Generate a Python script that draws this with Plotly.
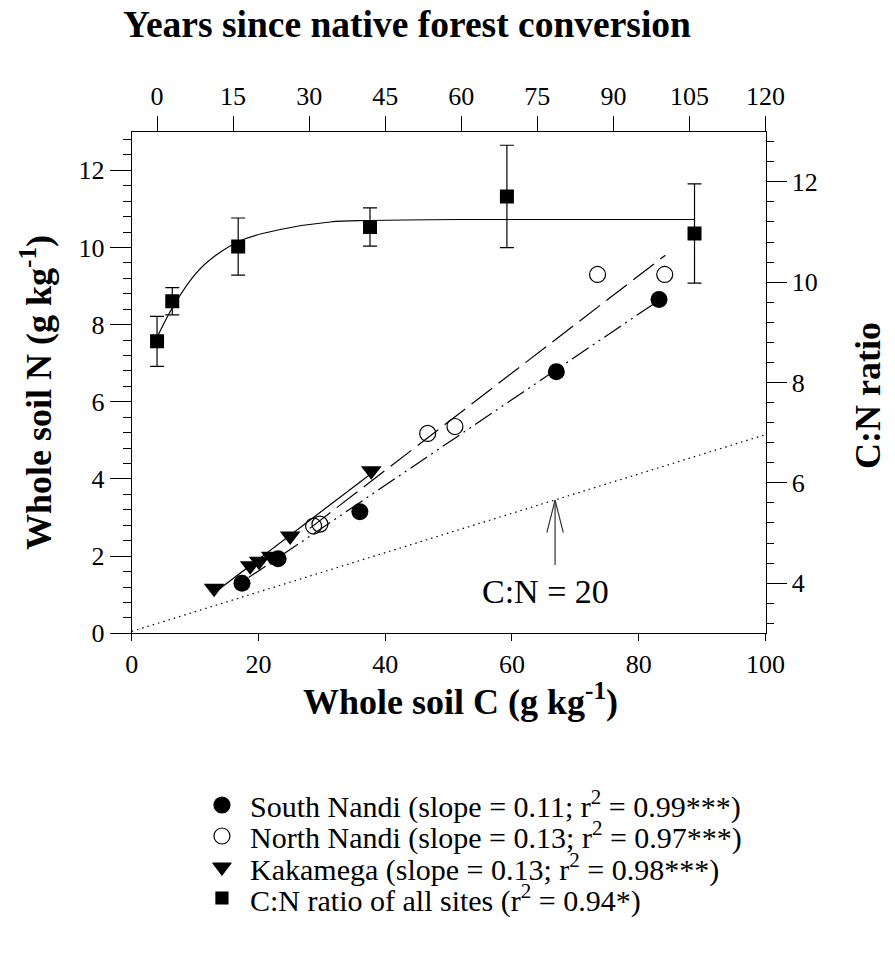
import plotly.graph_objects as go

# ---------------- data ----------------
# Whole soil C vs N, by site
sn_c = [17.4, 23.1, 36.0, 67.0, 83.2]          # South Nandi
sn_n = [1.30, 1.93, 3.15, 6.78, 8.65]
nn_c = [28.7, 29.7, 46.7, 51.0, 73.5, 84.1]    # North Nandi
nn_n = [2.78, 2.83, 5.18, 5.36, 9.30, 9.30]
kk_c = [13.0, 18.7, 20.1, 22.0, 25.0, 37.8]    # Kakamega
kk_n = [1.17, 1.75, 1.87, 2.00, 2.52, 4.21]

# regression lines (end points)
sn_fit_c = [18.5, 84.0]
sn_fit_n = [1.45, 8.72]
nn_fit_c = [28.1, 84.2]
nn_fit_n = [2.72, 9.80]
kk_fit_c = [12.8, 37.7]
kk_fit_n = [1.02, 4.13]

# C:N = 20 reference line
ref_c = [0, 100]
ref_n = [0.05, 5.15]

# C:N ratio vs years since conversion
cn_years = [0, 3, 16, 42, 69, 106]
cn_ratio = [8.82, 9.62, 10.71, 11.10, 11.71, 10.97]
cn_err = [0.50, 0.27, 0.57, 0.38, 1.02, 0.99]

# fitted C:N curve
cn_fit_years = [0, 3.2, 7.8, 11.8, 17, 24.3, 34.1, 42, 60, 106]
cn_fit_ratio = [8.90, 9.52, 10.19, 10.55, 10.85, 11.05, 11.20, 11.23, 11.25, 11.25]

# annotation arrow (C:N = 20)
arrow_c = 66.8
arrow_tail_n = 1.77
arrow_tip_n = 3.45
label_c, label_n = 65.3, 1.08

# legend
legend_rows = [1, 2, 3, 4]
legend_text = [
    "South Nandi (slope = 0.11; r<sup>2</sup> = 0.99***)",
    "North Nandi (slope = 0.13; r<sup>2</sup> = 0.97***)",
    "Kakamega (slope = 0.13; r<sup>2</sup> = 0.98***)",
    "C:N ratio of all sites (r<sup>2</sup> = 0.94*)",
]

FONT = "Liberation Serif"
BLACK = "black"

fig = go.Figure()

# reference dotted line
fig.add_trace(go.Scatter(x=ref_c, y=ref_n, mode="lines",
                         line=dict(color=BLACK, width=1.2, dash="1.5px,4px"),
                         xaxis="x", yaxis="y", hoverinfo="skip"))
# fit lines
fig.add_trace(go.Scatter(x=sn_fit_c, y=sn_fit_n, mode="lines",
                         line=dict(color=BLACK, width=1.2,
                                   dash="20px,5px,2px,5px,2px,5px"),
                         xaxis="x", yaxis="y"))
fig.add_trace(go.Scatter(x=nn_fit_c, y=nn_fit_n, mode="lines",
                         line=dict(color=BLACK, width=1.2, dash="26px,8px"),
                         xaxis="x", yaxis="y"))
fig.add_trace(go.Scatter(x=kk_fit_c, y=kk_fit_n, mode="lines",
                         line=dict(color=BLACK, width=1.2),
                         xaxis="x", yaxis="y"))

# points
fig.add_trace(go.Scatter(x=sn_c, y=sn_n, mode="markers", name="South Nandi",
                         marker=dict(symbol="circle", size=17, color=BLACK),
                         xaxis="x", yaxis="y"))
fig.add_trace(go.Scatter(x=nn_c, y=nn_n, mode="markers", name="North Nandi",
                         marker=dict(symbol="circle-open", size=16, color=BLACK,
                                     line=dict(width=1.2, color=BLACK)),
                         xaxis="x", yaxis="y"))
fig.add_trace(go.Scatter(x=kk_c, y=kk_n, mode="markers", name="Kakamega",
                         marker=dict(symbol="triangle-down", size=18, color=BLACK),
                         xaxis="x", yaxis="y"))

# C:N ratio curve + squares
fig.add_trace(go.Scatter(x=cn_fit_years, y=cn_fit_ratio, mode="lines",
                         line=dict(color=BLACK, width=1.2, shape="spline"),
                         xaxis="x2", yaxis="y2"))
fig.add_trace(go.Scatter(x=cn_years, y=cn_ratio, mode="markers",
                         name="C:N ratio of all sites",
                         marker=dict(symbol="square", size=14, color=BLACK),
                         error_y=dict(type="data", array=cn_err, visible=True,
                                      color=BLACK, thickness=1.2, width=7),
                         xaxis="x2", yaxis="y2"))

# arrow for C:N = 20
fig.add_trace(go.Scatter(
    x=[arrow_c, arrow_c, None, arrow_c - 1.3, arrow_c, arrow_c + 1.3],
    y=[arrow_tail_n, arrow_tip_n, None, arrow_tip_n - 0.84, arrow_tip_n,
       arrow_tip_n - 0.84],
    mode="lines", line=dict(color="#333333", width=1.2),
    xaxis="x", yaxis="y", hoverinfo="skip"))

fig.add_annotation(x=label_c, y=label_n, xref="x", yref="y", text="C:N = 20",
                   showarrow=False, xanchor="center", yanchor="middle",
                   font=dict(family=FONT, size=34, color=BLACK))

# legend built on its own hidden axes
legend_symbols = ["circle", "circle-open", "triangle-down", "square"]
legend_sizes = [16, 16, 16, 12]
fig.add_trace(go.Scatter(
    x=[0.248] * 4, y=legend_rows, mode="markers", opacity=1,
    marker=dict(symbol=legend_symbols, size=legend_sizes, color=BLACK,
                opacity=1, line=dict(width=1.2, color=BLACK)),
    xaxis="x3", yaxis="y3", hoverinfo="skip"))
for r, t in zip(legend_rows, legend_text):
    fig.add_annotation(x=0.277, y=r, xref="x3", yref="y3", text=t,
                       showarrow=False, xanchor="left", yanchor="middle",
                       font=dict(family=FONT, size=30, color=BLACK))

# titles
title_kw = dict(xref="paper", yref="paper", showarrow=False,
                xanchor="center", yanchor="middle")
fig.add_annotation(x=0.4553, y=0.9739,
                   text="<b>Years since native forest conversion</b>",
                   font=dict(family=FONT, size=37.5, color=BLACK), **title_kw)
fig.add_annotation(x=0.515, y=0.2686,
                   text="<b>Whole soil C (g kg<sup>-1</sup>)</b>",
                   font=dict(family=FONT, size=36, color=BLACK), **title_kw)
fig.add_annotation(x=0.0413, y=0.5904,
                   text="<b>Whole soil N (g kg<sup>-1</sup>)</b>", textangle=-90,
                   font=dict(family=FONT, size=36, color=BLACK), **title_kw)
fig.add_annotation(x=0.9698, y=0.5873,
                   text="<b>C:N ratio</b>", textangle=-90,
                   font=dict(family=FONT, size=36, color=BLACK), **title_kw)

axis_common = dict(showgrid=False, zeroline=False, showline=True,
                   linecolor=BLACK, linewidth=1.2, ticks="outside",
                   tickcolor=BLACK, tickwidth=1.2,
                   tickfont=dict(family=FONT, size=26, color=BLACK))

x_dom = [0.14715, 0.85531]
y_dom = [0.33824, 0.86238]

fig.update_layout(
    width=895, height=957,
    margin=dict(l=0, r=0, t=0, b=0, pad=0, autoexpand=False),
    plot_bgcolor="white", paper_bgcolor="white", showlegend=False,
    font=dict(family=FONT, color=BLACK, size=26),
    xaxis=dict(domain=x_dom, range=[0, 100], tick0=0, dtick=20, ticklen=7,
               anchor="y", **axis_common),
    xaxis2=dict(overlaying="x", side="top", range=[-5, 120], tick0=0, dtick=15,
                ticklen=15, anchor="y", **axis_common),
    yaxis=dict(domain=y_dom, range=[0, 13], tick0=0, dtick=2, ticklen=21,
               minor=dict(dtick=0.4, tick0=0, ticklen=8, ticks="outside",
                          tickcolor=BLACK, tickwidth=1.2),
               anchor="x", **axis_common),
    yaxis2=dict(overlaying="y", side="right", range=[3, 13], tick0=0, dtick=2,
                ticklen=20,
                minor=dict(dtick=0.4, tick0=0, ticklen=7, ticks="outside",
                           tickcolor=BLACK, tickwidth=1.2),
                anchor="x", **axis_common),
    xaxis3=dict(domain=[0, 1], range=[0, 1], visible=False, anchor="y3"),
    yaxis3=dict(domain=[0.04545, 0.17503], range=[4.5, 0.5], visible=False,
                anchor="x3"),
)

fig.write_html("out.html")
